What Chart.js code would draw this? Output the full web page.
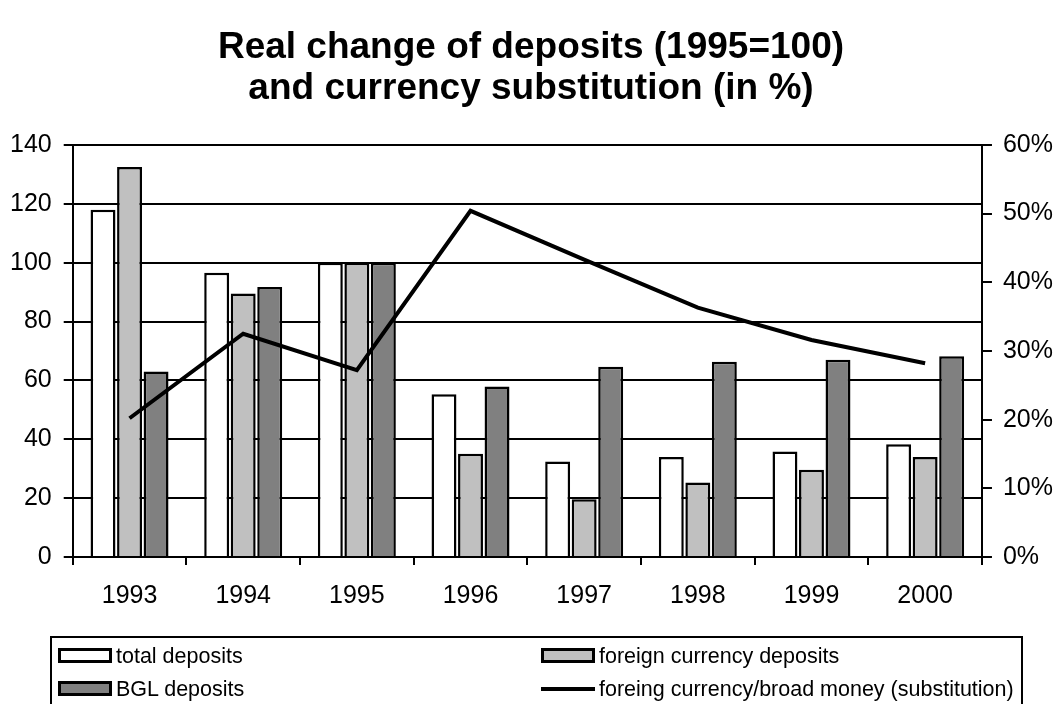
<!DOCTYPE html>
<html>
<head>
<meta charset="utf-8">
<script src="https://cdn.jsdelivr.net/npm/chart.js@4.4.0/dist/chart.umd.min.js"></script>
<style>
  html, body { margin: 0; padding: 0; background: #fff; }
  #wrap { position: relative; width: 1058px; height: 704px; overflow: hidden; }
  #c { position: absolute; left: 0; top: 0; }
  #legend {
    position: absolute; left: 50px; top: 636px; width: 973px; height: 80px;
    border: 2px solid #000; box-sizing: border-box;
    font-family: "Liberation Sans", Arial, sans-serif; font-size: 21.5px; color: #000;
  }
  .item { position: absolute; height: 24px; line-height: 24px; white-space: nowrap; }
  .sw { position: absolute; left: 0; top: 4px; width: 54px; height: 15px; box-sizing: border-box; border: 3px solid #000; }
  .ln { position: absolute; left: 0; top: 10px; width: 54px; height: 4px; background: #000; }
  .tx { position: absolute; left: 58px; top: 0; }
</style>
</head>
<body>
<div id="wrap">
  <canvas id="c" width="1058" height="704"></canvas>
  <div id="legend"></div>
</div>
<script>
const categories = ["1993", "1994", "1995", "1996", "1997", "1998", "1999", "2000"];
const totalDeposits = [118, 96.6, 100, 55.3, 32.4, 34, 35.8, 38.3];
const foreignDeposits = [132.5, 89.5, 100, 35.1, 19.6, 25.3, 29.6, 34];
const bglDeposits = [63, 91.7, 100, 57.9, 64.6, 66.3, 67, 68.2];
const substitution = [20.2, 32.5, 27.2, 50.4, 43.3, 36.3, 31.6, 28.2];
const titleLines = ["Real change of deposits (1995=100)", "and currency substitution (in %)"];
const seriesNames = ["total deposits", "foreign currency deposits", "BGL deposits", "foreing currency/broad money (substitution)"];

const FONT = "'Liberation Sans', Arial, sans-serif";

const barCommon = {
  type: 'bar', yAxisID: 'y', borderColor: '#000', borderWidth: 2.5,
  categoryPercentage: 0.7, barPercentage: 0.94, order: 2
};

new Chart(document.getElementById('c'), {
  data: {
    labels: categories,
    datasets: [
      Object.assign({ label: seriesNames[0], data: totalDeposits, backgroundColor: '#ffffff' }, barCommon),
      Object.assign({ label: seriesNames[1], data: foreignDeposits, backgroundColor: '#c0c0c0' }, barCommon),
      Object.assign({ label: seriesNames[2], data: bglDeposits, backgroundColor: '#808080' }, barCommon),
      { type: 'line', label: seriesNames[3], data: substitution, yAxisID: 'y1', borderColor: '#000',
        borderWidth: 4, pointRadius: 0, tension: 0, fill: false, order: 0 }
    ]
  },
  options: {
    responsive: false, animation: false, devicePixelRatio: 1,
    layout: { padding: { left: -2, right: -6, top: 0, bottom: 77 } },
    plugins: {
      legend: { display: false }, tooltip: { enabled: false },
      title: { display: true, text: titleLines, color: '#000',
        font: { family: FONT, size: 37, weight: 'bold', lineHeight: 1.12 },
        padding: { top: 27, bottom: 35 } }
    },
    scales: {
      x: {
        grid: { display: true, offset: true, drawOnChartArea: false, drawTicks: true, tickLength: 8, color: '#000', lineWidth: 2 },
        border: { display: true, color: '#000', width: 2 },
        ticks: { color: '#000', font: { family: FONT, size: 25 }, padding: 16 }
      },
      y: {
        position: 'left', min: 0, max: 140,
        ticks: { stepSize: 20, color: '#000', font: { family: FONT, size: 25 }, padding: 12 },
        grid: { color: '#000', lineWidth: 2, tickLength: 9 },
        border: { display: true, color: '#000', width: 2 }
      },
      y1: {
        position: 'right', min: 0, max: 60,
        ticks: { stepSize: 10, color: '#000', font: { family: FONT, size: 25 }, padding: 11,
          callback: v => v + '%' },
        grid: { drawOnChartArea: false, color: '#000', lineWidth: 2, tickLength: 10 },
        border: { display: true, color: '#000', width: 2 }
      }
    }
  }
});

// HTML legend (two columns)
const legendItems = [
  { name: seriesNames[0], kind: 'box', color: '#ffffff', left: 6, top: 6 },
  { name: seriesNames[1], kind: 'box', color: '#c0c0c0', left: 489, top: 6 },
  { name: seriesNames[2], kind: 'box', color: '#808080', left: 6, top: 39 },
  { name: seriesNames[3], kind: 'line', color: '#000', left: 489, top: 39 }
];
const leg = document.getElementById('legend');
legendItems.forEach(it => {
  const d = document.createElement('div');
  d.className = 'item';
  d.style.left = it.left + 'px';
  d.style.top = it.top + 'px';
  const s = document.createElement('div');
  if (it.kind === 'box') { s.className = 'sw'; s.style.background = it.color; }
  else { s.className = 'ln'; }
  const t = document.createElement('span');
  t.className = 'tx';
  t.textContent = it.name;
  d.appendChild(s); d.appendChild(t);
  leg.appendChild(d);
});
</script>
</body>
</html>
